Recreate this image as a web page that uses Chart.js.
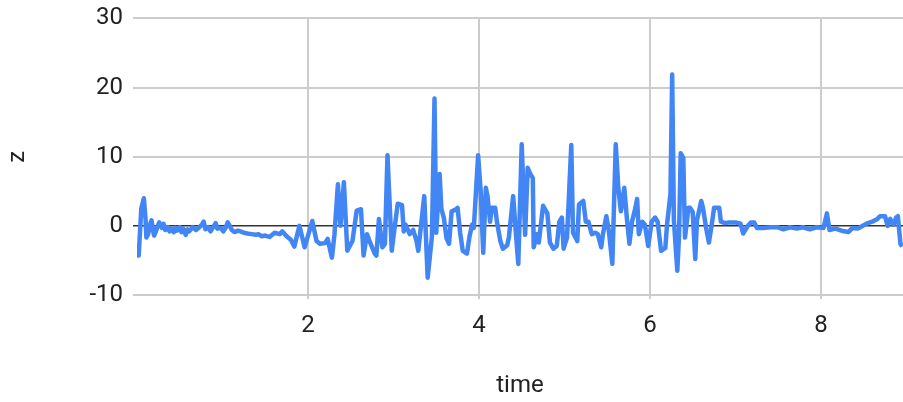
<!DOCTYPE html>
<html>
<head>
<meta charset="utf-8">
<script src="https://cdn.jsdelivr.net/npm/chart.js@4"></script>
<style>
  html, body { margin: 0; padding: 0; background: #fff; }
  #wrap { width: 903px; height: 402px; }
</style>
</head>
<body>
<div id="wrap"><canvas id="chart" width="903" height="402"></canvas></div>
<script>
// time / z readings
const time = [
  0.01, 0.02, 0.05, 0.08, 0.10, 0.11, 0.13, 0.16, 0.17, 0.19, 0.20, 0.23, 0.26, 0.29, 0.31, 0.33,
  0.36, 0.38, 0.40, 0.43, 0.45, 0.47, 0.50, 0.52, 0.54, 0.57, 0.59, 0.61, 0.65, 0.69, 0.72, 0.76,
  0.78, 0.80, 0.83, 0.86, 0.90, 0.92, 0.94, 0.98, 1.01, 1.04, 1.06, 1.08, 1.11, 1.14, 1.18, 1.21,
  1.25, 1.29, 1.34, 1.39, 1.42, 1.46, 1.50, 1.55, 1.61, 1.67, 1.70, 1.75, 1.80, 1.84, 1.90, 1.96,
  2.01, 2.05, 2.10, 2.14, 2.20, 2.23, 2.28, 2.31, 2.35, 2.38, 2.42, 2.46, 2.52, 2.57, 2.62, 2.65,
  2.69, 2.72, 2.78, 2.80, 2.83, 2.87, 2.90, 2.93, 2.98, 3.00, 3.05, 3.10, 3.12, 3.14, 3.19, 3.23,
  3.27, 3.29, 3.36, 3.40, 3.45, 3.48, 3.50, 3.54, 3.56, 3.59, 3.62, 3.65, 3.68, 3.72, 3.75, 3.78,
  3.81, 3.86, 3.89, 3.92, 3.94, 3.99, 4.02, 4.05, 4.08, 4.10, 4.13, 4.15, 4.19, 4.21, 4.25, 4.28,
  4.33, 4.35, 4.40, 4.43, 4.46, 4.50, 4.54, 4.57, 4.60, 4.63, 4.64, 4.68, 4.70, 4.75, 4.80, 4.83,
  4.87, 4.91, 4.94, 4.97, 4.99, 5.03, 5.08, 5.10, 5.15, 5.17, 5.22, 5.25, 5.28, 5.32, 5.36, 5.39,
  5.43, 5.45, 5.49, 5.52, 5.56, 5.60, 5.63, 5.66, 5.70, 5.73, 5.76, 5.79, 5.83, 5.85, 5.87, 5.91,
  5.94, 5.98, 6.02, 6.06, 6.09, 6.13, 6.18, 6.20, 6.24, 6.26, 6.28, 6.32, 6.34, 6.36, 6.39, 6.41,
  6.45, 6.47, 6.50, 6.53, 6.55, 6.60, 6.62, 6.66, 6.69, 6.73, 6.75, 6.81, 6.83, 6.88, 6.94, 7.00,
  7.06, 7.09, 7.14, 7.18, 7.22, 7.25, 7.32, 7.41, 7.49, 7.56, 7.64, 7.72, 7.79, 7.87, 7.95, 8.03,
  8.07, 8.10, 8.17, 8.24, 8.32, 8.37, 8.43, 8.49, 8.55, 8.60, 8.66, 8.69, 8.75, 8.78, 8.81, 8.85,
  8.88, 8.90, 8.93, 8.95
];
const z = [
  -3.5, -4.3, 2.5, 4.0, 1.0, -1.7, -1.2, 0.5, 0.8, -0.8, -1.4, -0.5, 0.5, -0.3, 0.3, -0.6,
  -0.2, -0.8, -0.4, -0.9, -0.3, -0.7, -0.2, -0.9, -0.4, -1.3, -0.5, -0.8, -0.2, -0.6, -0.3, 0.2,
  0.6, -0.5, -0.2, -0.8, 0.0, 0.4, -0.4, -0.3, -0.8, -0.2, 0.5, 0.1, -0.6, -0.9, -0.7, -0.8,
  -1.0, -1.1, -1.2, -1.3, -1.2, -1.5, -1.4, -1.6, -1.0, -1.2, -0.8, -1.5, -2.0, -3.0, 0.0, -3.1,
  -1.0, 0.7, -2.2, -2.6, -2.5, -1.9, -4.6, -1.2, 6.0, 0.0, 6.3, -3.6, -2.2, 2.2, 2.4, -4.3,
  -1.2, -2.2, -4.0, -4.3, 1.0, -3.1, -2.6, 10.2, -3.6, -1.5, 3.2, 3.0, -0.8, 0.2, -1.2, -0.6,
  -2.2, -3.6, 4.3, -7.5, -1.5, 18.4, -1.0, 7.5, 2.5, 1.1, -1.8, -2.6, 2.1, 2.3, 2.6, -1.0,
  -3.6, -4.0, -1.5, 0.2, -0.3, 10.2, 5.0, -3.9, 5.5, 4.3, 0.6, 2.6, 2.6, 0.6, -2.2, -3.3,
  -2.8, -1.7, 4.3, -0.8, -5.5, 11.8, -1.3, 8.4, 7.5, 6.9, -3.1, -1.2, -2.4, 2.9, 1.8, -2.4,
  -3.3, -2.9, 0.6, 1.2, -3.3, -1.7, 11.7, -1.0, -2.2, 3.1, 3.6, 0.6, 0.6, -1.2, -1.0, -1.2,
  -3.1, -1.2, 1.4, -0.8, -5.5, 11.8, 5.5, 2.1, 5.5, 1.1, -2.6, 0.6, 2.6, 3.9, -1.2, 0.6,
  0.2, -2.9, 0.6, 1.2, 0.6, -3.6, -3.2, 0.2, 4.6, 21.9, 0.8, -6.5, -1.5, 10.5, 9.8, -1.7,
  2.6, 2.6, 2.0, -4.8, 0.8, 3.6, 2.6, -0.5, -2.4, 0.8, 2.6, 2.6, 0.6, 0.4, 0.5, 0.5,
  0.3, -1.1, -0.1, 0.5, 0.5, -0.3, -0.3, -0.2, -0.2, -0.5, -0.2, -0.4, -0.2, -0.5, -0.2, -0.3,
  1.8, -0.6, -0.4, -0.7, -0.9, -0.3, -0.4, 0.0, 0.4, 0.6, 1.0, 1.4, 1.4, 0.0, 1.0, 0.2,
  1.2, 1.4, -2.6, -3.0
];
const xTicks = [2, 4, 6, 8];
const yTicks = [-10, 0, 10, 20, 30];

const points = time.map((t, i) => ({ x: t, y: z[i] }));
const font = { family: 'Roboto, "Liberation Sans", Arial, sans-serif', size: 24, lineHeight: 1 };
const yFont = { family: font.family, size: 24, lineHeight: 0.7 };

new Chart(document.getElementById('chart'), {
  type: 'scatter',
  data: {
    datasets: [{
      data: points,
      showLine: true,
      borderColor: '#4285F4',
      borderWidth: 4.5,
      borderJoinStyle: 'round',
      pointRadius: 0,
      tension: 0
    }]
  },
  options: {
    responsive: false,
    animation: false,
    layout: { padding: { top: 0, right: 0, bottom: 0, left: 0 } },
    plugins: { legend: { display: false }, tooltip: { enabled: false } },
    scales: {
      x: {
        type: 'linear',
        min: 0,
        max: 8.96,
        afterBuildTicks: s => { s.ticks = xTicks.map(v => ({ value: v })); },
        afterFit: s => { s.height = 107; },
        grid: { color: '#cccccc', lineWidth: 2, tickLength: 4 },
        border: { display: false },
        ticks: { font, color: '#222', padding: 15, maxRotation: 0 },
        title: { display: true, text: 'time', font, color: '#222', padding: { top: 43 } }
      },
      y: {
        min: -10,
        max: 30,
        afterBuildTicks: s => { s.ticks = yTicks.map(v => ({ value: v })); },
        afterFit: s => { s.width = 137; },
        grid: {
          color: c => c.tick && c.tick.value === 0 ? '#333333' : '#cccccc',
          lineWidth: c => c.tick && c.tick.value === 0 ? 1.5 : 2,
          tickLength: 4
        },
        border: { display: false },
        ticks: { font: yFont, color: '#222', padding: 10 },
        title: { display: true, text: 'z', font, color: '#222', padding: { bottom: 0, top: 6 } }
      }
    }
  }
});
</script>
</body>
</html>
